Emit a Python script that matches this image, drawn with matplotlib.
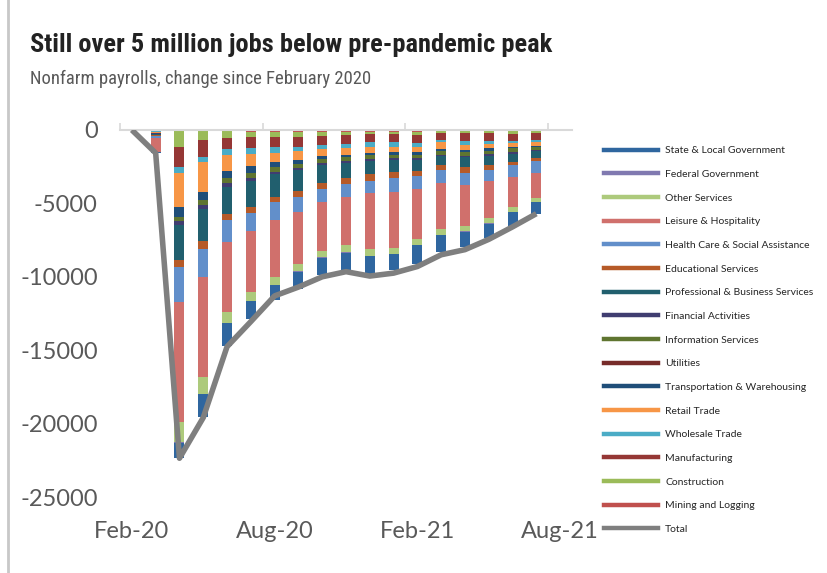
import numpy as np
import matplotlib.pyplot as plt
from matplotlib.lines import Line2D

# months on the category axis, Feb-20 .. Aug-21
months = ['Feb-20', 'Mar-20', 'Apr-20', 'May-20', 'Jun-20', 'Jul-20', 'Aug-20',
          'Sep-20', 'Oct-20', 'Nov-20', 'Dec-20', 'Jan-21', 'Feb-21', 'Mar-21',
          'Apr-21', 'May-21', 'Jun-21', 'Jul-21', 'Aug-21']
tick_labels = ['Feb-20', 'Aug-20', 'Feb-21', 'Aug-21']

# change since Feb 2020, thousands of jobs (Mar-20 .. Jul-21)
mining = [-5, -60, -70, -100, -110, -120, -125, -130, -125, -115, -115, -110, -100, -100, -95, -90, -85]
construction = [-50, -1080, -610, -445, -390, -340, -330, -260, -215, -160, -160, -210, -125, -125, -130, -180, -140]
manufacturing = [-40, -1362, -1137, -749, -729, -722, -681, -613, -613, -565, -565, -565, -456, -504, -504, -456, -456]
wholesale = [-20, -430, -381, -388, -409, -368, -313, -293, -272, -300, -300, -252, -157, -272, -225, -177, -157]
retail = [-60, -2337, -2002, -1090, -838, -613, -572, -456, -456, -429, -381, -381, -456, -340, -293, -232, -232]
transport = [-40, -640, -565, -497, -477, -341, -293, -225, -177, -136, -163, -163, -116, -136, -163, -109, -109]
utilities = [-2, -5, -5, -6, -6, -7, -7, -8, -8, -8, -8, -8, -8, -8, -8, -8, -8]
information = [-20, -272, -320, -361, -341, -341, -272, -272, -272, -272, -245, -225, -272, -272, -225, -272, -184]
financial = [-10, -272, -293, -232, -204, -157, -136, -136, -136, -157, -116, -116, -109, -109, -116, -116, -48]
professional = [-120, -2405, -2200, -1859, -1771, -1546, -1451, -1226, -1022, -865, -838, -749, -592, -681, -613, -524, -518]
educational = [-60, -498, -524, -409, -409, -341, -368, -409, -388, -497, -388, -341, -341, -388, -341, -225, -204]
health = [-90, -2343, -1927, -1478, -1226, -1226, -1022, -906, -906, -817, -933, -906, -885, -817, -790, -838, -797]
leisure = [-970, -8172, -6810, -4767, -4113, -3882, -3582, -3337, -3248, -3793, -3834, -3405, -3133, -2772, -2520, -2043, -1703]
other = [-40, -1404, -1137, -790, -654, -565, -477, -409, -497, -456, -409, -409, -388, -381, -341, -300, -252]
federal = [-2, -10, -5, -5, -5, -5, -10, -10, -10, -10, -10, -10, -10, -10, -10, -10, -10]
state_local = [-40, -1030, -1546, -1525, -1226, -1022, -1205, -1185, -1185, -1246, -1090, -1246, -1158, -1049, -1001, -953, -790]

# total nonfarm, Feb-20 .. Jul-21
total = [0, -1570, -22360, -19590, -14760, -13050, -11300, -10700, -10000, -9650,
         -9950, -9750, -9300, -8500, -8150, -7450, -6600, -5700]

# stacked from zero downwards
series = [
    ('Mining and Logging', mining, '#C0504D'),
    ('Construction', construction, '#9BBB59'),
    ('Manufacturing', manufacturing, '#953735'),
    ('Wholesale Trade', wholesale, '#4BACC6'),
    ('Retail Trade', retail, '#F79646'),
    ('Transportation & Warehousing', transport, '#1F4E79'),
    ('Utilities', utilities, '#772C2A'),
    ('Information Services', information, '#5F7530'),
    ('Financial Activities', financial, '#403D70'),
    ('Professional & Business Services', professional, '#215F6E'),
    ('Educational Services', educational, '#B65A28'),
    ('Health Care & Social Assistance', health, '#628FCA'),
    ('Leisure & Hospitality', leisure, '#D0706C'),
    ('Other Services', other, '#ADCA7C'),
    ('Federal Government', federal, '#8079B0'),
    ('State & Local Government', state_local, '#2F669F'),
]

plt.rcParams['font.family'] = ['Lato', 'DejaVu Sans']
plt.rcParams['axes.unicode_minus'] = False
narrow = ['Roboto Condensed', 'Liberation Sans Narrow', 'DejaVu Sans Condensed', 'Roboto']

fig = plt.figure(figsize=(8.28, 5.73), dpi=100)
ax = fig.add_axes([120 / 828, 1 - 497 / 573, 452 / 828, 367 / 573])

xb = np.arange(1, len(total))
bottom = np.zeros(len(xb))
for name, vals, col in series:
    v = np.array(vals, dtype=float)
    ax.bar(xb, v, 0.42, bottom=bottom, color=col, zorder=2, linewidth=0)
    bottom += v

ax.plot(np.arange(len(total)), total, color='#7F7F7F', lw=4,
        solid_joinstyle='round', solid_capstyle='butt', zorder=3)

ax.set_xlim(-0.5, len(months) - 0.5)
ax.set_ylim(-25000, 0)
ax.set_yticks(np.arange(-25000, 1, 5000))
ax.tick_params(axis='y', length=0, pad=16, labelsize=17, labelcolor='#595959')

ax.set_xticks([months.index(m) for m in tick_labels])
ax.set_xticklabels(tick_labels)
ax.tick_params(axis='x', which='major', length=0, pad=17, labelsize=17,
               labelcolor='#595959')
ax.set_xticks([-0.5, 5.5, 11.5, 17.5], minor=True)
ax.tick_params(axis='x', which='minor', bottom=False, top=True, length=5,
               width=1.2, color='#D9D9D9', direction='out')

for s in ['left', 'right', 'bottom']:
    ax.spines[s].set_visible(False)
ax.spines['top'].set_color('#D9D9D9')
ax.spines['top'].set_linewidth(1.5)

# legend in the order Excel shows it
handles = [Line2D([0], [0], color=col, lw=3.2) for name, vals, col in reversed(series)]
labels = [name for name, vals, col in reversed(series)]
handles.append(Line2D([0], [0], color='#7F7F7F', lw=3.2))
labels.append('Total')
fig.legend(handles, labels, loc='upper left', bbox_to_anchor=(604 / 828, 1 - 146 / 573),
           frameon=False, fontsize=7.5, handlelength=5.2, handletextpad=0.67,
           labelspacing=1.38, borderpad=0, borderaxespad=0, labelcolor='#262626')

fig.text(30 / 828, 1 - 45 / 573, 'Still over 5 million jobs below pre-pandemic peak',
         family=narrow, weight='bold', fontsize=19, color='#222222', va='center')
fig.text(30 / 828, 1 - 79 / 573, 'Nonfarm payrolls, change since February 2020',
         family=narrow, fontsize=13.4, color='#595959', va='center')

fig.add_artist(Line2D([8 / 828, 8 / 828], [0, 1], color='#C8C8C8', lw=2))

fig.savefig('out.png', dpi=100)
